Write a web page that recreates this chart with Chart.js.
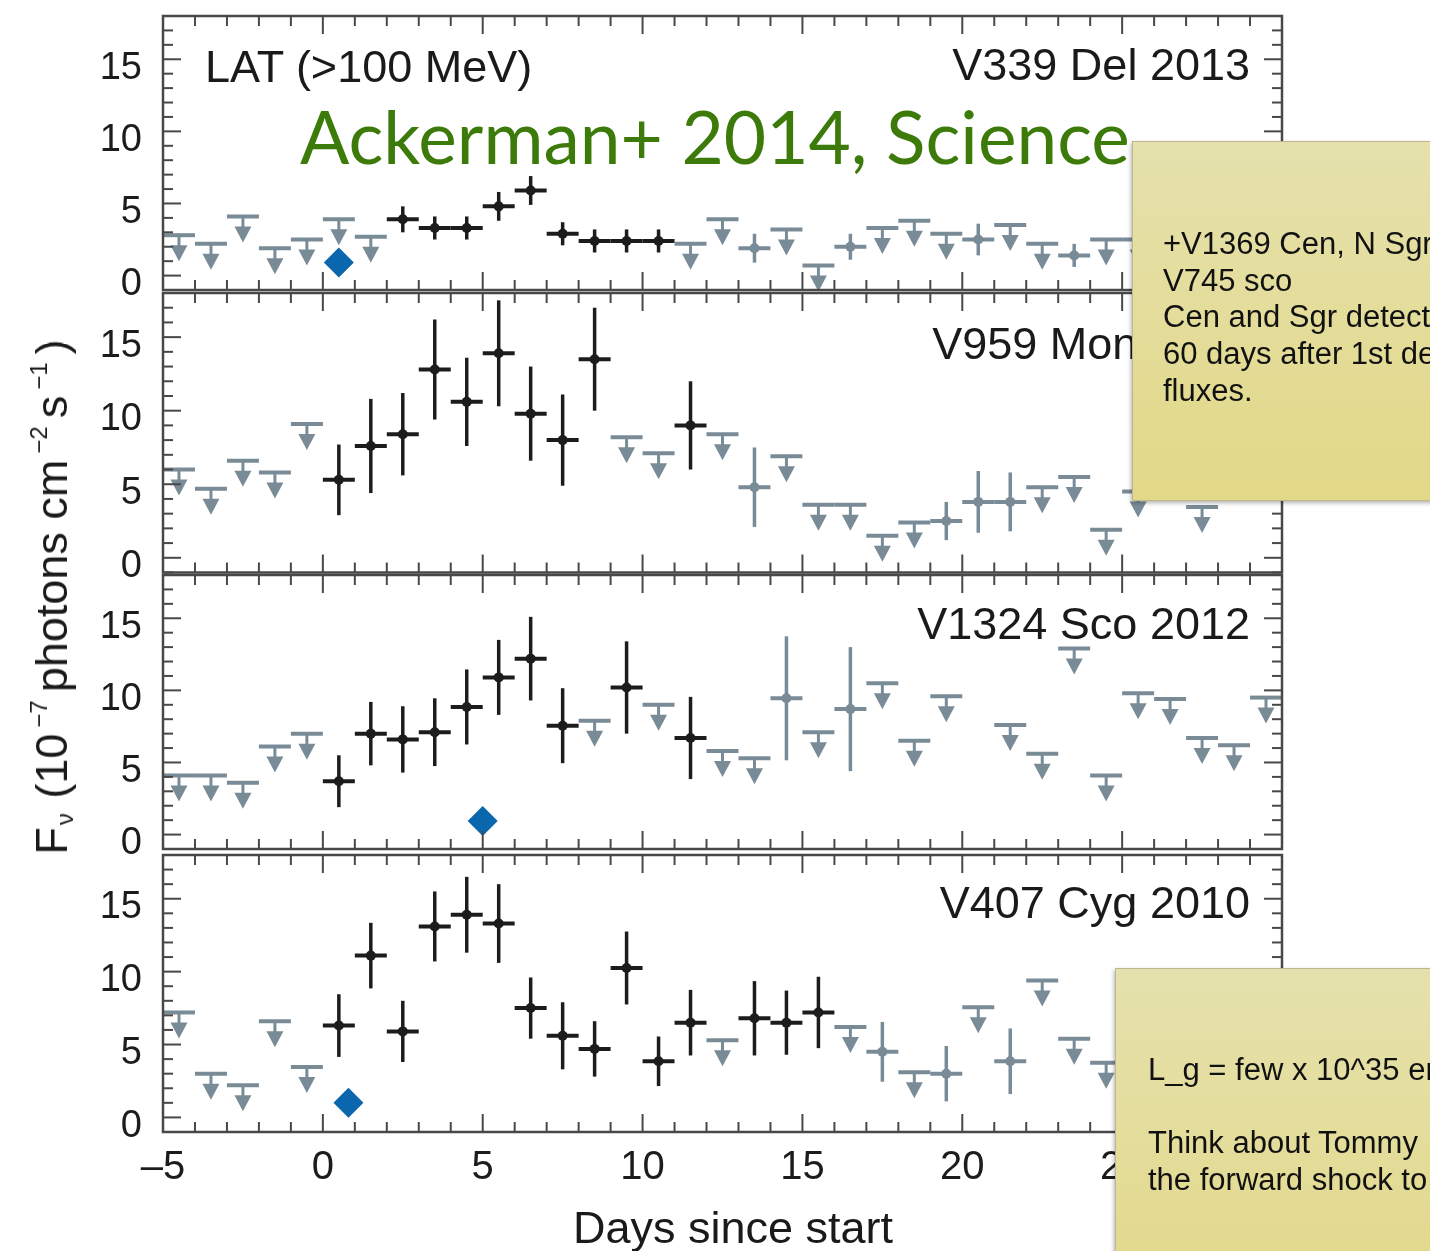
<!DOCTYPE html>
<html>
<head>
<meta charset="utf-8">
<title>LAT light curves of four novae</title>
<script src="https://cdn.jsdelivr.net/npm/chart.js@4.4.1/dist/chart.umd.min.js"></script>
<style>
  html, body { margin: 0; padding: 0; }
  body {
    width: 1430px; height: 1251px; overflow: hidden; position: relative; background: #fff;
    font-family: "Liberation Sans", Arial, Helvetica, sans-serif; color: #1a1a1a;
  }
  canvas.panel { position: absolute; left: 0; z-index: 1; }
  .lbl { position: absolute; z-index: 2; font-size: 45px; line-height: 45px; white-space: nowrap; }
  #ytitle {
    position: absolute; z-index: 2; left: 55px; top: 597px; font-size: 45px; line-height: 45px;
    white-space: nowrap; transform: translate(-50%, -50%) rotate(-90deg);
  }
  #ytitle .sup { font-size: 24px; position: relative; top: -20px; margin: 0 8px 0 6px; }
  #ytitle .sub { font-size: 24px; position: relative; top: 6px; margin: 0 2px; }
  #xtitle { position: absolute; z-index: 2; left: 733px; top: 1205px; font-size: 45px; line-height: 45px;
    white-space: nowrap; transform: translateX(-50%); }
  #cite { position: absolute; z-index: 3; left: 300px; top: 100px; font-family: Lato, "Open Sans", sans-serif;
    font-size: 73px; line-height: 73px; color: #3c7b0a; white-space: nowrap; }
  .note {
    position: absolute; z-index: 4; width: 340px; height: 360px; box-sizing: border-box;
    background: linear-gradient(#e5e1ad, #e2d887);
    border: 1px solid #bdb78f; box-shadow: -1px 2px 4px rgba(0, 0, 0, 0.3);
    font-size: 31px; line-height: 36.7px; color: #111; white-space: nowrap;
  }
  #note1 { left: 1132px; top: 141px; padding: 84px 0 0 30px; }
  #note2 { left: 1115px; top: 968px; padding: 83px 0 0 32px; }
</style>
</head>
<body>
<div id="ytitle">F<span class="sub">ν</span> (10<span class="sup">−7</span>photons cm<span class="sup">−2</span>s<span class="sup">−1</span>)</div>
<div id="xtitle">Days since start</div>
<div class="lbl" style="left:205px; top:44px;">LAT (&gt;100 MeV)</div>
<div id="cite">Ackerman+ 2014, Science</div>
<div class="note" id="note1">+V1369 Cen, N Sgr<br>V745 sco<br>Cen and Sgr detected<br>60 days after 1st detection<br>fluxes.</div>
<div class="note" id="note2">L_g = few x 10^35 erg/s<br><br>Think about Tommy<br>the forward shock to</div>

<script>
"use strict";

const dayMin = -5, dayMax = 30;
const fluxMin = -1, fluxMax = 18;
const xTickValues = [-5, 0, 5, 10, 15, 20, 25, 30];
const yTickValues = [0, 5, 10, 15];
const panelNames = ['V339 Del 2013', 'V959 Mon 2012', 'V1324 Sco 2012', 'V407 Cyg 2010'];

// V339 Del 2013
const delDetDays = [2.5, 3.5, 4.5, 5.5, 6.5, 7.5, 8.5, 9.5, 10.5];
const delDetFlux = [3.9, 3.3, 3.3, 4.8, 5.9, 2.9, 2.4, 2.4, 2.4];
const delDetErr  = [0.9, 0.8, 0.8, 1.0, 1.0, 0.8, 0.8, 0.8, 0.8];
const delWeakDays = [13.5, 16.5, 20.5, 23.5];
const delWeakFlux = [1.9, 2.0, 2.5, 1.4];
const delWeakErr  = [1.0, 0.9, 1.1, 0.8];
const delUlDays = [-4.5, -3.5, -2.5, -1.5, -0.5, 0.5, 1.5, 11.5, 12.5, 14.5, 15.5, 17.5, 18.5, 19.5, 21.5, 22.5, 24.5, 25.5];
const delUlFlux = [2.8, 2.2, 4.1, 1.9, 2.5, 3.9, 2.7, 2.2, 3.9, 3.2, 0.7, 3.3, 3.8, 2.9, 3.5, 2.2, 2.5, 2.5];
const delOptDays = [0.5];
const delOptFlux = [0.9];

// V959 Mon 2012
const monDetDays = [0.5, 1.5, 2.5, 3.5, 4.5, 5.5, 6.5, 7.5, 8.5, 11.5];
const monDetFlux = [5.3, 7.6, 8.4, 12.8, 10.6, 13.9, 9.8, 8.0, 13.5, 9.0];
const monDetErr  = [2.4, 3.2, 2.8, 3.4, 3.0, 3.6, 3.2, 3.1, 3.5, 3.0];
const monWeakDays = [13.5, 19.5, 20.5, 21.5];
const monWeakFlux = [4.8, 2.5, 3.8, 3.8];
const monWeakErr  = [2.7, 1.3, 2.1, 2.0];
const monUlDays = [-4.5, -3.5, -2.5, -1.5, -0.5, 9.5, 10.5, 12.5, 14.5, 15.5, 16.5, 17.5, 18.5, 22.5, 23.5, 24.5, 25.5, 27.5];
const monUlFlux = [6.0, 4.7, 6.6, 5.8, 9.1, 8.2, 7.1, 8.4, 6.9, 3.6, 3.6, 1.5, 2.4, 4.8, 5.5, 1.9, 4.5, 3.45];
const monOptDays = [];
const monOptFlux = [];

// V1324 Sco 2012
const scoDetDays = [0.5, 1.5, 2.5, 3.5, 4.5, 5.5, 6.5, 7.5, 9.5, 11.5];
const scoDetFlux = [3.7, 7.0, 6.6, 7.1, 8.85, 10.9, 12.2, 7.55, 10.2, 6.7];
const scoDetErr  = [1.8, 2.2, 2.3, 2.35, 2.6, 2.6, 2.9, 2.6, 3.2, 2.85];
const scoWeakDays = [14.5, 16.5];
const scoWeakFlux = [9.45, 8.7];
const scoWeakErr  = [4.3, 4.3];
const scoUlDays = [-4.5, -3.5, -2.5, -1.5, -0.5, 8.5, 10.5, 12.5, 13.5, 15.5, 17.5, 18.5, 19.5, 21.5, 22.5, 23.5, 24.5, 25.5, 26.5, 27.5, 28.5, 29.5];
const scoUlFlux = [4.1, 4.1, 3.6, 6.1, 7.0, 7.9, 9.0, 5.8, 5.3, 7.1, 10.5, 6.5, 9.6, 7.6, 5.6, 12.9, 4.1, 9.8, 9.4, 6.7, 6.2, 9.5];
const scoOptDays = [5.0];
const scoOptFlux = [0.95];

// V407 Cyg 2010
const cygDetDays = [0.5, 1.5, 2.5, 3.5, 4.5, 5.5, 6.5, 7.5, 8.5, 9.5, 10.5, 11.5, 13.5, 14.5, 15.5];
const cygDetFlux = [6.3, 11.1, 5.9, 13.1, 13.9, 13.3, 7.5, 5.6, 4.7, 10.25, 3.85, 6.5, 6.8, 6.5, 7.2];
const cygDetErr  = [2.15, 2.25, 2.1, 2.4, 2.6, 2.7, 2.1, 2.3, 1.9, 2.5, 1.7, 2.25, 2.55, 2.2, 2.45];
const cygWeakDays = [17.5, 19.5, 21.5];
const cygWeakFlux = [4.5, 3.0, 3.85];
const cygWeakErr  = [2.05, 1.9, 2.25];
const cygUlDays = [-4.5, -3.5, -2.5, -1.5, -0.5, 12.5, 16.5, 18.5, 20.5, 22.5, 23.5, 24.5];
const cygUlFlux = [7.2, 3.0, 2.2, 6.6, 3.45, 5.3, 6.2, 3.1, 7.55, 9.4, 5.4, 3.75];
const cygOptDays = [0.8];
const cygOptFlux = [1.0];

const ink = '#1c1c1c';
const grey = '#7a8b98';
const blue = '#0a66ad';
const frameColor = '#484848';

// panel edges in page pixels (top of first panel ... bottom of last)
const edges = [13.5, 293, 572.5, 852, 1132];
const plotLeft = 163, plotRight = 1282;

const toPoints = (days, flux, err) => days.map((d, i) => ({ x: d, y: flux[i], err: err ? err[i] : 0 }));

const panelSeries = [
  [toPoints(delDetDays, delDetFlux, delDetErr), toPoints(delWeakDays, delWeakFlux, delWeakErr), toPoints(delUlDays, delUlFlux), toPoints(delOptDays, delOptFlux)],
  [toPoints(monDetDays, monDetFlux, monDetErr), toPoints(monWeakDays, monWeakFlux, monWeakErr), toPoints(monUlDays, monUlFlux), toPoints(monOptDays, monOptFlux)],
  [toPoints(scoDetDays, scoDetFlux, scoDetErr), toPoints(scoWeakDays, scoWeakFlux, scoWeakErr), toPoints(scoUlDays, scoUlFlux), toPoints(scoOptDays, scoOptFlux)],
  [toPoints(cygDetDays, cygDetFlux, cygDetErr), toPoints(cygWeakDays, cygWeakFlux, cygWeakErr), toPoints(cygUlDays, cygUlFlux), toPoints(cygOptDays, cygOptFlux)]
];

const seg = (ctx, x1, y1, x2, y2) => {
    ctx.beginPath();
    ctx.moveTo(x1, y1);
    ctx.lineTo(x2, y2);
    ctx.stroke();
};

// error bars and upper-limit arrows, drawn under the point markers
const errorBars = {
    id: 'errorBars',
    beforeDatasetsDraw(chart) {
        const { ctx, scales: { x, y } } = chart;
        ctx.save();
        ctx.lineCap = 'butt';
        chart.data.datasets.forEach((ds, i) => {
            if (!ds.kind) return;
            const meta = chart.getDatasetMeta(i);
            ctx.strokeStyle = ds.borderColor;
            ctx.fillStyle = ds.borderColor;
            meta.data.forEach((pt, j) => {
                const d = ds.data[j];
                const xl = x.getPixelForValue(d.x - 0.5);
                const xr = x.getPixelForValue(d.x + 0.5);
                if (ds.kind === 'det') {
                    ctx.lineWidth = 4;
                    seg(ctx, xl, pt.y, xr, pt.y);
                    ctx.lineWidth = 3.5;
                    seg(ctx, pt.x, y.getPixelForValue(d.y + d.err), pt.x, y.getPixelForValue(d.y - d.err));
                } else {
                    ctx.lineWidth = 4;
                    seg(ctx, xl, pt.y, xr, pt.y);
                    ctx.lineWidth = 3;
                    seg(ctx, pt.x, pt.y, pt.x, pt.y + 11);
                    ctx.beginPath();
                    ctx.moveTo(pt.x - 8.5, pt.y + 10);
                    ctx.lineTo(pt.x + 8.5, pt.y + 10);
                    ctx.lineTo(pt.x, pt.y + 26);
                    ctx.closePath();
                    ctx.fill();
                }
            });
        });
        ctx.restore();
    }
};

// box around each panel with inward ticks on all four sides
const frame = {
    id: 'frame',
    afterDraw(chart) {
        const { ctx, chartArea: a, scales: { x, y } } = chart;
        ctx.save();
        ctx.strokeStyle = frameColor;
        ctx.lineWidth = 2.5;
        ctx.strokeRect(a.left, a.top, a.right - a.left, a.bottom - a.top);
        ctx.lineWidth = 2;
        for (let d = dayMin; d <= dayMax; d++) {
            const px = x.getPixelForValue(d);
            const len = d % 5 === 0 ? 18 : 10;
            seg(ctx, px, a.top, px, a.top + len);
            seg(ctx, px, a.bottom, px, a.bottom - len);
        }
        for (let v = fluxMin; v <= fluxMax; v++) {
            const py = y.getPixelForValue(v);
            const len = v % 5 === 0 ? 18 : 10;
            seg(ctx, a.left, py, a.left + len, py);
            seg(ctx, a.right, py, a.right - len, py);
        }
        ctx.restore();
    }
};

Chart.defaults.font.family = '"Liberation Sans", Arial, Helvetica, sans-serif';

panelNames.forEach((name, i) => {
    const top = edges[i], bottom = edges[i + 1];
    const last = i === panelNames.length - 1;
    const cTop = Math.floor(top) - 12;
    const cH = Math.ceil(bottom) + (last ? 72 : 12) - cTop;

    const canvas = document.createElement('canvas');
    canvas.className = 'panel';
    canvas.width = 1430;
    canvas.height = cH;
    canvas.style.top = cTop + 'px';
    document.body.appendChild(canvas);

    const label = document.createElement('div');
    label.className = 'lbl';
    label.textContent = name;
    label.style.right = (1430 - 1250) + 'px';
    label.style.top = (top + 28) + 'px';
    document.body.appendChild(label);

    const [det, weak, ul, opt] = panelSeries[i];

    new Chart(canvas, {
        type: 'scatter',
        data: {
            datasets: [
                { label: 'optical peak', data: opt, pointStyle: 'rectRot', pointRadius: 15,
                  backgroundColor: blue, borderColor: blue, borderWidth: 0 },
                { label: 'detection', kind: 'det', data: det, pointRadius: 5,
                  backgroundColor: ink, borderColor: ink, borderWidth: 0 },
                { label: 'low significance', kind: 'det', data: weak, pointRadius: 5,
                  backgroundColor: grey, borderColor: grey, borderWidth: 0 },
                { label: 'upper limit', kind: 'ul', data: ul, pointRadius: 0,
                  backgroundColor: grey, borderColor: grey }
            ]
        },
        options: {
            responsive: false,
            animation: false,
            events: [],
            layout: {
                padding: { top: top - cTop, bottom: last ? 0 : cTop + cH - bottom, left: 0, right: 1430 - plotRight }
            },
            plugins: { legend: { display: false }, tooltip: { enabled: false } },
            scales: {
                x: {
                    type: 'linear', min: dayMin, max: dayMax, display: last,
                    grid: { display: false, drawTicks: false }, border: { display: false },
                    afterBuildTicks: s => { s.ticks = xTickValues.map(v => ({ value: v })); },
                    afterFit: s => { if (last) s.height = cTop + cH - bottom; s.paddingLeft = 0; s.paddingRight = 0; },
                    ticks: {
                        padding: 12, autoSkip: false, maxRotation: 0, color: ink, font: { size: 40 },
                        callback: v => v < 0 ? '\u2013' + Math.abs(v) : String(v)
                    }
                },
                y: {
                    min: fluxMin, max: fluxMax,
                    grid: { display: false, drawTicks: false }, border: { display: false },
                    afterBuildTicks: s => { s.ticks = yTickValues.map(v => ({ value: v })); },
                    afterFit: s => { s.width = plotLeft; s.paddingTop = 0; s.paddingBottom = 0; },
                    ticks: { padding: 21, labelOffset: 9, autoSkip: false, color: ink, font: { size: 38 } }
                }
            }
        },
        plugins: [errorBars, frame]
    });
});
</script>
</body>
</html>
